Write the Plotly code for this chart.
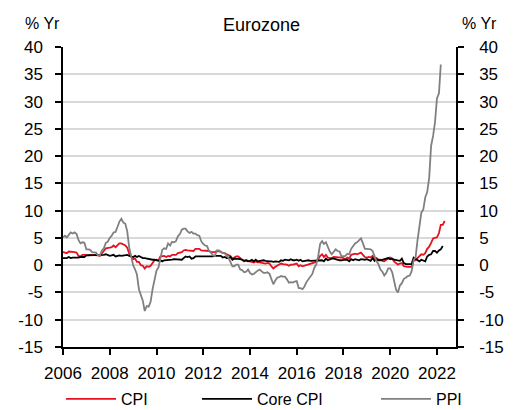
import pandas as pd
import plotly.graph_objects as go

# ---- data (monthly, % y/y) ----
cpi = [
    2.4, 2.3, 2.2, 2.5, 2.5, 2.5, 2.4, 2.3, 1.7, 1.6, 1.9, 1.9,
    1.8, 1.8, 1.9, 1.9, 1.9, 1.9, 1.8, 1.7, 2.1, 2.6, 3.1, 3.1,
    3.2, 3.3, 3.6, 3.3, 3.7, 4.0, 4.0, 3.8, 3.6, 3.2, 2.1, 1.6,
    1.1, 1.2, 0.6, 0.6, 0.0, -0.1, -0.6, -0.2, -0.3, -0.1, 0.5, 0.9,
    1.0, 0.9, 1.6, 1.6, 1.7, 1.5, 1.7, 1.6, 1.9, 1.9, 1.9, 2.2,
    2.3, 2.4, 2.7, 2.8, 2.7, 2.7, 2.6, 2.6, 3.0, 3.0, 3.0, 2.7,
    2.7, 2.7, 2.7, 2.6, 2.4, 2.4, 2.4, 2.6, 2.6, 2.5, 2.2, 2.2,
    2.0, 1.8, 1.7, 1.2, 1.4, 1.6, 1.6, 1.3, 1.1, 0.7, 0.9, 0.8,
    0.8, 0.7, 0.5, 0.7, 0.5, 0.5, 0.4, 0.4, 0.3, 0.4, 0.3, -0.2,
    -0.6, -0.3, -0.1, 0.0, 0.3, 0.2, 0.2, 0.1, -0.1, 0.1, 0.1, 0.2,
    0.3, -0.2, 0.0, -0.2, -0.1, 0.1, 0.2, 0.2, 0.4, 0.5, 0.6, 1.1,
    1.7, 2.0, 1.5, 1.9, 1.4, 1.3, 1.3, 1.5, 1.5, 1.4, 1.5, 1.4,
    1.3, 1.1, 1.4, 1.2, 1.9, 2.0, 2.1, 2.0, 2.1, 2.3, 1.9, 1.5,
    1.4, 1.5, 1.4, 1.7, 1.2, 1.3, 1.0, 1.0, 0.8, 0.7, 1.0, 1.3,
    1.4, 1.2, 0.7, 0.3, 0.1, 0.3, 0.4, -0.2, -0.3, -0.3, -0.3, -0.3,
    0.9, 0.9, 1.3, 1.6, 2.0, 1.9, 2.2, 3.0, 3.4, 4.1, 4.9, 5.0,
    5.1, 5.9, 7.4, 7.4, 8.1,
]
core = [
    1.3, 1.3, 1.3, 1.5, 1.3, 1.4, 1.4, 1.3, 1.4, 1.5, 1.5, 1.5,
    1.8, 1.8, 1.9, 1.9, 1.9, 1.9, 1.9, 1.9, 1.9, 1.9, 2.0, 1.9,
    1.7, 1.8, 1.9, 1.6, 1.7, 1.8, 1.7, 1.8, 1.8, 1.9, 1.7, 1.6,
    1.5, 1.7, 1.5, 1.7, 1.5, 1.3, 1.3, 1.2, 1.2, 1.1, 1.0, 1.0,
    0.9, 0.8, 0.9, 0.7, 0.9, 0.9, 1.0, 0.9, 1.0, 1.1, 1.1, 1.1,
    1.1, 1.0, 1.3, 1.6, 1.5, 1.6, 1.2, 1.3, 1.6, 1.6, 1.6, 1.6,
    1.5, 1.6, 1.6, 1.6, 1.6, 1.6, 1.7, 1.7, 1.6, 1.7, 1.4, 1.5,
    1.3, 1.3, 1.5, 1.0, 1.2, 1.2, 1.1, 1.1, 1.0, 0.8, 0.9, 0.7,
    0.8, 1.0, 0.7, 1.0, 0.7, 0.8, 0.8, 0.9, 0.8, 0.7, 0.7, 0.7,
    0.6, 0.7, 0.6, 0.6, 0.9, 0.8, 1.0, 0.9, 0.9, 1.1, 0.9, 0.9,
    1.0, 0.8, 1.0, 0.7, 0.8, 0.9, 0.9, 0.8, 0.8, 0.8, 0.8, 0.9,
    0.9, 0.9, 0.7, 1.2, 0.9, 1.1, 1.2, 1.2, 1.1, 0.9, 0.9, 0.9,
    1.0, 1.0, 1.0, 0.7, 1.1, 0.9, 1.1, 1.0, 0.9, 1.1, 1.0, 1.0,
    1.1, 1.0, 0.8, 1.3, 0.8, 1.1, 0.9, 0.9, 1.0, 1.1, 1.3, 1.3,
    1.1, 1.2, 1.0, 0.9, 0.9, 0.8, 1.2, 0.4, 0.2, 0.2, 0.2, 0.2,
    1.4, 1.1, 0.9, 0.7, 1.0, 0.9, 0.7, 1.6, 1.9, 2.0, 2.6, 2.6,
    2.3, 2.7, 2.9, 3.5,
]
ppi = [
    5.1, 5.4, 5.1, 5.5, 6.0, 5.8, 6.0, 5.7, 4.6, 4.0, 4.2, 4.1,
    2.9, 2.9, 2.8, 2.4, 2.4, 2.3, 1.8, 1.8, 2.7, 3.1, 4.1, 4.3,
    5.0, 5.4, 6.0, 6.1, 7.0, 8.0, 8.5, 7.8, 7.6, 6.2, 3.2, 1.6,
    0.0, -0.8, -1.7, -4.4, -5.6, -6.5, -8.4, -7.5, -7.6, -6.7, -4.4, -2.8,
    -1.0, -0.4, 0.9, 2.8, 3.1, 3.0, 4.0, 3.6, 4.3, 4.2, 4.4, 5.3,
    5.7, 6.5, 6.7, 6.7, 6.2, 5.9, 6.1, 5.8, 5.8, 5.5, 5.4, 4.4,
    3.9, 3.6, 3.5, 2.6, 2.3, 1.8, 1.7, 2.7, 2.7, 2.5, 2.2, 2.2,
    1.7, 1.3, 0.6, -0.2, -0.2, 0.1, 0.1, -0.8, -0.9, -1.3, -1.2, -0.8,
    -1.4, -1.7, -1.6, -1.2, -1.0, -0.8, -1.1, -1.4, -1.4, -1.3, -1.6, -2.6,
    -3.5, -2.8, -2.3, -2.2, -2.0, -2.1, -2.1, -2.6, -3.2, -3.1, -3.2, -3.0,
    -2.9, -4.2, -4.2, -4.4, -3.9, -3.1, -2.6, -1.9, -1.6, -0.5, 0.1, 1.6,
    3.9, 4.4, 3.9, 4.2, 3.3, 2.5, 2.0, 2.5, 2.9, 2.6, 2.5, 1.6,
    1.6, 1.7, 2.1, 2.0, 3.0, 3.6, 4.0, 4.2, 4.5, 4.9, 4.0, 3.0,
    3.0, 3.0, 2.9, 2.6, 1.6, 0.7, 0.2, -0.8, -1.2, -1.9, -1.4, -0.6,
    -0.6, -1.3, -2.8, -4.5, -5.0, -3.7, -3.3, -2.5, -2.3, -2.0, -1.9, -1.1,
    0.9, 1.5, 4.4, 7.6, 9.6, 10.2, 12.4, 13.4, 16.0, 21.9, 23.7, 26.2,
    30.6, 31.5, 36.8,
]
start_month = "2006-01-01"
x_ticks = ["2006", "2008", "2010", "2012", "2014", "2016", "2018", "2020", "2022"]
y_ticks = [40, 35, 30, 25, 20, 15, 10, 5, 0, -5, -10, -15]


def months(n):
    return pd.date_range(start_month, periods=n, freq="MS")


FONT = "Liberation Sans, Arial, sans-serif"
TICK_FONT = dict(family=FONT, size=17, color="black")

fig = go.Figure()
fig.add_trace(go.Scatter(x=months(len(cpi)), y=cpi, name="CPI", mode="lines",
                         line=dict(color="#E8101E", width=1.8), legend="legend"))
fig.add_trace(go.Scatter(x=months(len(core)), y=core, name="Core CPI", mode="lines",
                         line=dict(color="#000000", width=1.8), legend="legend2"))
fig.add_trace(go.Scatter(x=months(len(ppi)), y=ppi, name="PPI", mode="lines",
                         line=dict(color="#808080", width=1.8), legend="legend3"))
# helper trace so that the right-hand axis is drawn
fig.add_trace(go.Scatter(x=[None], y=[None], yaxis="y2", showlegend=False,
                         hoverinfo="skip"))

yaxis_common = dict(
    range=[-15, 40], tickvals=y_ticks, ticktext=[str(v) for v in y_ticks],
    showline=True, linecolor="black", linewidth=1.5,
    ticks="outside", ticklen=6, tickcolor="black", tickwidth=1.5,
    tickfont=TICK_FONT, zeroline=False, automargin=False,
)

legend_common = dict(orientation="h", xref="container", yref="container",
                     y=1 - 391 / 410, yanchor="middle", xanchor="left",
                     font=dict(family=FONT, size=16, color="black"),
                     bgcolor="rgba(0,0,0,0)", itemwidth=50)

# the page body adds an 8px offset, so the figure is laid out 8px up/left
fig.update_layout(
    width=520, height=410,
    margin=dict(l=55, r=72, t=39, b=71, autoexpand=False),
    paper_bgcolor="white", plot_bgcolor="white",
    font=dict(family=FONT, color="black"),
    xaxis=dict(
        type="date", range=["2006-01-01", "2022-10-25"],
        tickvals=[f"{y}-01-01" for y in x_ticks], ticktext=x_ticks,
        showline=True, linecolor="black", linewidth=1.5,
        ticks="outside", ticklen=6, tickcolor="black", tickwidth=1.5,
        tickfont=TICK_FONT, automargin=False,
        showgrid=False, zeroline=False, ticklabelstandoff=4,
    ),
    yaxis=dict(**yaxis_common, ticklabelstandoff=9,
               showgrid=True, gridcolor="#D9D9D9", gridwidth=1.5),
    yaxis2=dict(**yaxis_common, ticklabelstandoff=12, overlaying="y",
                side="right", showgrid=False, matches="y"),
    shapes=[dict(type="line", xref="paper", x0=0, x1=1, yref="y", y0=0, y1=0,
                 line=dict(color="black", width=1.8), layer="below")],
    annotations=[
        dict(text="Eurozone", xref="paper", yref="paper", x=0.504, y=1.0,
             yshift=22, xanchor="center", yanchor="middle", showarrow=False,
             font=dict(family=FONT, size=18, color="black")),
        dict(text="% Yr", xref="paper", yref="paper", x=-0.053, y=1.0,
             yshift=24, xanchor="center", yanchor="middle", showarrow=False,
             font=dict(family=FONT, size=16, color="black")),
        dict(text="% Yr", xref="paper", yref="paper", x=1.061, y=1.0,
             yshift=24, xanchor="center", yanchor="middle", showarrow=False,
             font=dict(family=FONT, size=16, color="black")),
    ],
    legend=dict(**legend_common, x=53 / 520),
    legend2=dict(**legend_common, x=189 / 520),
    legend3=dict(**legend_common, x=368 / 520),
    showlegend=True,
)

fig.write_html("out.html")
